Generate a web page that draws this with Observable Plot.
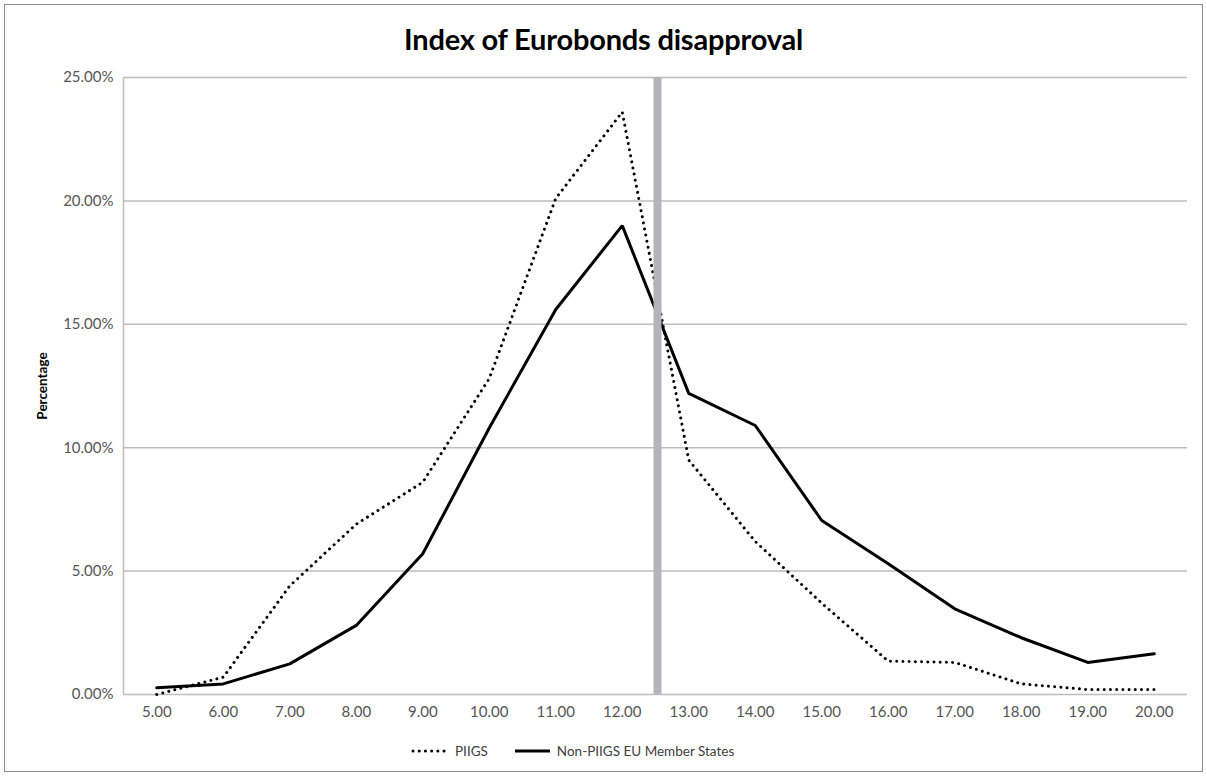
<!DOCTYPE html>
<html>
<head>
<meta charset="utf-8">
<script src="https://cdn.jsdelivr.net/npm/d3@7"></script>
<script src="https://cdn.jsdelivr.net/npm/@observablehq/plot@0.6"></script>
<style>
  html, body { margin: 0; padding: 0; background: #fff; }
  body { width: 1207px; height: 776px; position: relative; overflow: hidden; font-family: Lato, "DejaVu Sans", sans-serif; }
  #frame { position: absolute; left: 4px; top: 4px; width: 1197px; height: 766px; border: 1px solid #8c8c8c; }
  #title { position: absolute; left: 0; top: 21px; width: 1207px; text-align: center; font-weight: bold; font-size: 29px; color: #000; letter-spacing: -0.2px; }
  #chart { position: absolute; left: 0; top: 55px; }
  #legend { position: absolute; left: 411px; top: 743px; display: flex; align-items: center; font-size: 13.5px; color: #404040; }
  #legend .item { display: flex; align-items: center; margin-right: 25px; }
  #legend svg { margin-right: 6px; }
</style>
</head>
<body>
<div id="frame"></div>
<div id="title">Index of Eurobonds disapproval</div>
<div id="chart"></div>
<div id="legend"></div>
<script>
// Categories (index score)
const categories = [5, 6, 7, 8, 9, 10, 11, 12, 13, 14, 15, 16, 17, 18, 19, 20];
// Percent values
const piigs    = [0.0, 0.7, 4.4, 6.9, 8.6, 12.8, 20.1, 23.6, 9.5, 6.2, 3.7, 1.35, 1.3, 0.43, 0.2, 0.2];
const nonPiigs = [0.27, 0.43, 1.24, 2.8, 5.7, 10.8, 15.6, 19.0, 12.2, 10.9, 7.05, 5.3, 3.47, 2.3, 1.3, 1.65];
const yTicks = [0, 5, 10, 15, 20, 25];
const cutoff = [12.53];
const seriesNames = ["PIIGS", "Non-PIIGS EU Member States"];

const rows = categories.flatMap((c, i) => [
  {x: c, y: piigs[i], s: seriesNames[0]},
  {x: c, y: nonPiigs[i], s: seriesNames[1]}
]);

const dotDash = "0.01 6.2";

const chart = Plot.plot({
  width: 1207,
  height: 675,
  marginLeft: 123,
  marginRight: 20,
  marginTop: 22,
  marginBottom: 36,
  style: {fontFamily: "Lato, sans-serif", fontSize: "15px", color: "#595959", background: "transparent"},
  x: {domain: [4.5, 20.5], ticks: categories, tickFormat: d => d.toFixed(2), tickSize: 0, tickPadding: 12, label: null},
  y: {domain: [0, 25], ticks: yTicks, tickFormat: d => d.toFixed(2) + "%", tickSize: 0, tickPadding: 10, label: null},
  marks: [
    Plot.ruleY(yTicks, {stroke: "#bdbdbd", strokeWidth: 1.5}),
    Plot.ruleX([4.5], {stroke: "#bdbdbd", strokeWidth: 1.5}),
    Plot.line(rows.filter(d => d.s === seriesNames[0]), {x: "x", y: "y", stroke: "#000", strokeWidth: 3, strokeDasharray: dotDash, strokeLinecap: "round", strokeLinejoin: "round"}),
    Plot.line(rows.filter(d => d.s === seriesNames[1]), {x: "x", y: "y", stroke: "#000", strokeWidth: 3, strokeLinejoin: "miter"}),
    Plot.ruleX(cutoff, {stroke: "#b4b4b8", strokeWidth: 8}),
    Plot.axisX({ticks: categories, tickFormat: d => d.toFixed(2), tickSize: 0, tickPadding: 12, fill: "#555", fontSize: 15}),
    Plot.axisY({ticks: yTicks, tickFormat: d => d.toFixed(2) + "%", tickSize: 0, tickPadding: 10, fill: "#555", fontSize: 15}),
    Plot.text(["Percentage"], {frameAnchor: "left", textAnchor: "middle", dx: -81, rotate: -90, text: d => d, fontWeight: "bold", fontSize: 13.5, fill: "#000"})
  ]
});
document.getElementById("chart").appendChild(chart);

// Legend
const legend = document.getElementById("legend");
const styles = [{dash: dotDash, w: 3, cap: "round"}, {dash: null, w: 3, cap: "butt"}];
seriesNames.forEach((name, i) => {
  const item = document.createElement("div");
  item.className = "item";
  const ns = "http://www.w3.org/2000/svg";
  const s = document.createElementNS(ns, "svg");
  s.setAttribute("width", 38); s.setAttribute("height", 10);
  const l = document.createElementNS(ns, "line");
  l.setAttribute("x1", 2); l.setAttribute("x2", 37); l.setAttribute("y1", 5); l.setAttribute("y2", 5);
  l.setAttribute("stroke", "#000"); l.setAttribute("stroke-width", styles[i].w);
  l.setAttribute("stroke-linecap", styles[i].cap);
  if (styles[i].dash) l.setAttribute("stroke-dasharray", styles[i].dash);
  s.appendChild(l);
  item.appendChild(s);
  const t = document.createElement("span");
  t.textContent = name;
  item.appendChild(t);
  legend.appendChild(item);
});
</script>
</body>
</html>
